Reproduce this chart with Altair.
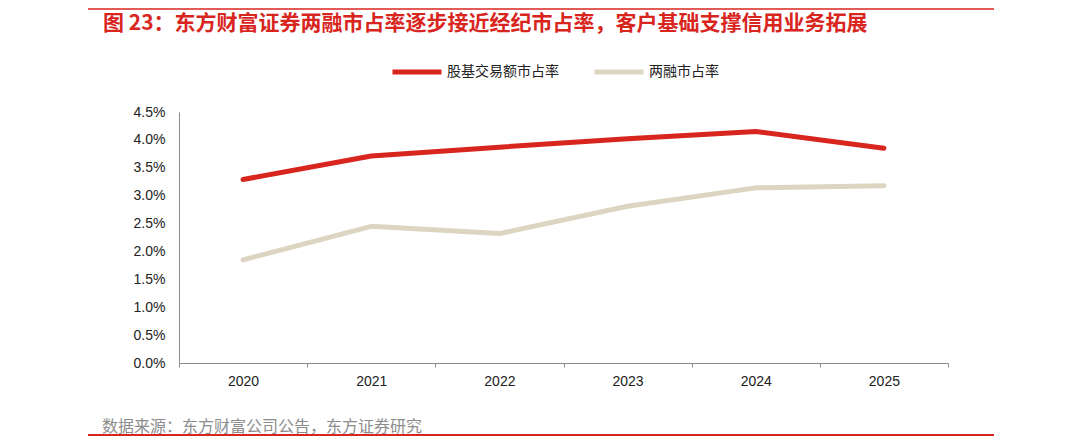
import pandas as pd
import altair as alt

# values (percent)
years = ['2020', '2021', '2022', '2023', '2024', '2025']
broker_share = [3.29, 3.71, 3.87, 4.02, 4.15, 3.85]   # 股基交易额市占率
margin_share = [1.85, 2.45, 2.32, 2.81, 3.14, 3.18]   # 两融市占率

series_names = ['股基交易额市占率', '两融市占率']
series_colors = ['#D8251E', '#DDD5C1']
y_ticks = [0, 0.005, 0.01, 0.015, 0.02, 0.025, 0.03, 0.035, 0.04, 0.045]

title_text = '图 23：东方财富证券两融市占率逐步接近经纪市占率，客户基础支撑信用业务拓展'
source_text = '数据来源：东方财富公司公告，东方证券研究'

CJK = 'Noto Sans CJK SC'
LATIN = 'Liberation Sans'
RED = '#D8251E'

df = pd.DataFrame({
    'year': years * 2,
    'series': [series_names[0]] * len(years) + [series_names[1]] * len(years),
    'share': [v / 100 for v in broker_share + margin_share],
})

lines = alt.Chart(df).mark_line(strokeWidth=5, strokeCap='round', strokeJoin='round').encode(
    x=alt.X('year:N', bandPosition=0.5,
            scale=alt.Scale(type='band', paddingInner=0, paddingOuter=0),
            axis=alt.Axis(title=None, labelAngle=0, tickBand='extent', tickSize=4,
                          labelPadding=7, labelFont=LATIN, labelFontSize=14,
                          labelColor='#222222', domainColor='#8c8c8c',
                          tickColor='#8c8c8c', grid=False)),
    y=alt.Y('share:Q',
            scale=alt.Scale(domain=[0, 0.045], nice=False),
            axis=alt.Axis(title=None, values=y_ticks, format='.1%', ticks=False,
                          grid=False, labelPadding=14, labelFont=LATIN,
                          labelFontSize=14, labelColor='#222222',
                          domainColor='#8c8c8c')),
    color=alt.Color('series:N',
                    scale=alt.Scale(domain=series_names, range=series_colors),
                    legend=alt.Legend(title=None, orient='none', direction='horizontal',
                                      legendX=211, legendY=-67,
                                      symbolType='stroke', symbolSize=2400,
                                      symbolStrokeWidth=5, labelOffset=3,
                                      columnPadding=25, labelFont=CJK,
                                      labelFontSize=14, labelColor='#222222')),
)

# decorations: title, source, red rules
title = alt.Chart(pd.DataFrame({'t': [title_text]})).mark_text(
    align='left', baseline='middle', font=CJK, fontSize=21, fontWeight='bold', color=RED
).encode(text='t:N', x=alt.value(-76), y=alt.value(-88))

source = alt.Chart(pd.DataFrame({'t': [source_text]})).mark_text(
    align='left', baseline='middle', font=CJK, fontSize=16, color='#8c8c8c'
).encode(text='t:N', x=alt.value(-77), y=alt.value(315))

top_rule = alt.Chart(pd.DataFrame({'a': [0]})).mark_rule(color=RED, strokeWidth=1.5).encode(
    x=alt.value(-91), x2=alt.value(815), y=alt.value(-103))
bottom_rule = alt.Chart(pd.DataFrame({'a': [0]})).mark_rule(color=RED, strokeWidth=2).encode(
    x=alt.value(-91), x2=alt.value(815), y=alt.value(323))

chart = alt.layer(lines, title, source, top_rule, bottom_rule).properties(
    width=769, height=251,
    autosize=alt.AutoSizeParams(type='none'),
    padding={'left': 171, 'top': 104, 'right': 124, 'bottom': 75},
).configure_view(stroke=None)

chart.save('out.html', embed_options={'renderer': 'svg', 'actions': False})
